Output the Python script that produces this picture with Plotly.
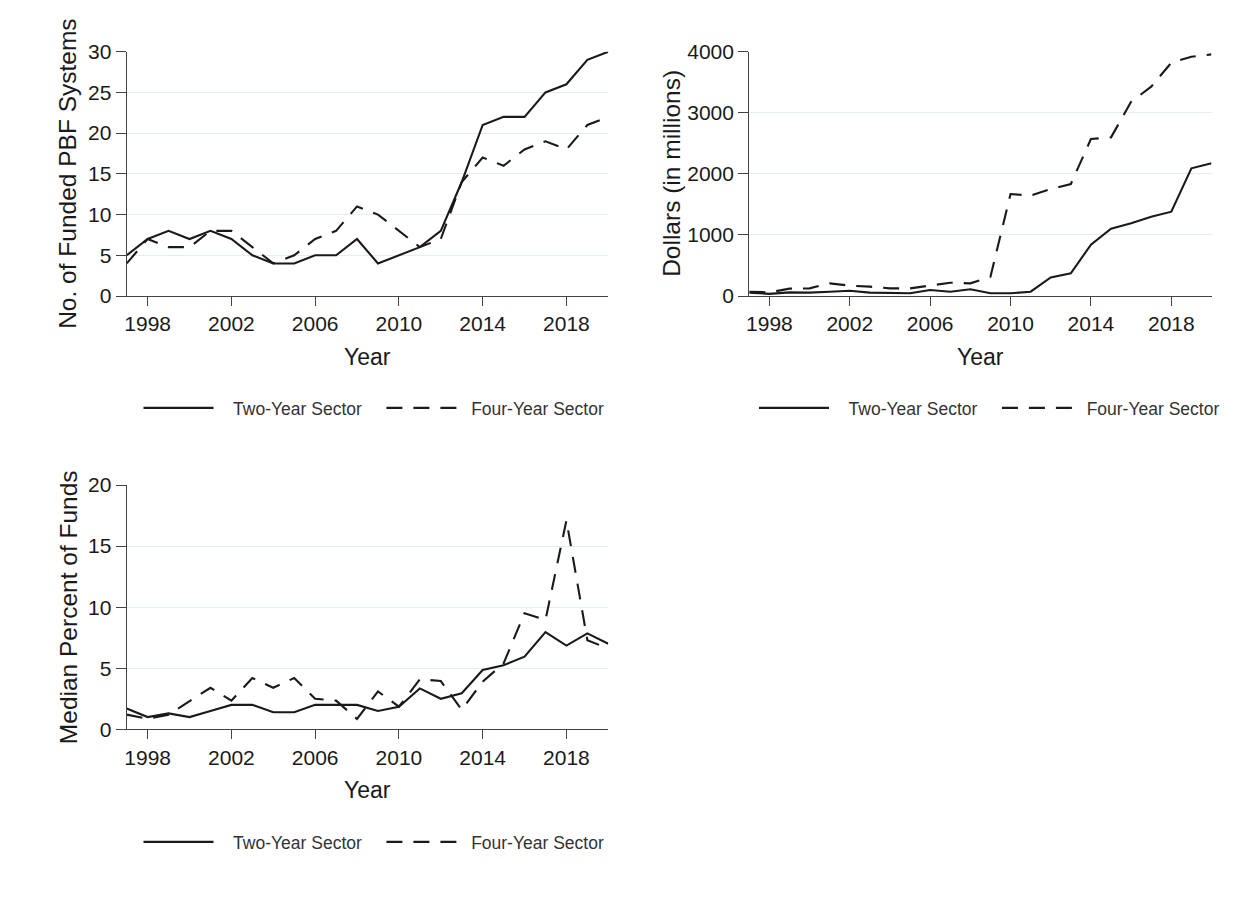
import plotly.graph_objects as go

# ---------------- data ----------------
years = list(range(1997, 2021))
year_ticks = [1998, 2002, 2006, 2010, 2014, 2018]

funded_two = [5, 7, 8, 7, 8, 7, 5, 4, 4, 5, 5, 7, 4, 5, 6, 8, 14, 21, 22, 22, 25, 26, 29, 30]
funded_four = [4, 7, 6, 6, 8, 8, 6, 4, 5, 7, 8, 11, 10, 8, 6, 7, 14, 17, 16, 18, 19, 18, 21, 22]

dollars_two = [55, 35, 60, 55, 70, 87, 55, 44, 44, 98, 70, 110, 44, 44, 70, 305, 371, 840,
               1102, 1190, 1299, 1380, 2090, 2172]
dollars_four = [70, 60, 120, 125, 207, 170, 153, 125, 125, 170, 218, 207, 316, 1670, 1643, 1750,
                1834, 2570, 2597, 3181, 3427, 3820, 3918, 3956]

pct_two = [1.7, 1.0, 1.3, 1.0, 1.5, 2.0, 2.0, 1.4, 1.4, 2.0, 2.0, 2.0, 1.5, 1.85, 3.35, 2.5,
           2.95, 4.85, 5.25, 5.95, 7.95, 6.85, 7.85, 7.0]
pct_four = [1.2, 0.85, 1.2, 2.3, 3.4, 2.35, 4.2, 3.4, 4.2, 2.5, 2.35, 0.85, 3.1, 1.85, 4.1, 3.95,
            1.6, 3.9, 5.4, 9.5, 8.95, 17.1, 7.3, 6.6]

series_names = ["Two-Year Sector", "Four-Year Sector"]
y_titles = ["No. of Funded PBF Systems", "Dollars (in millions)", "Median Percent of Funds"]
x_title = "Year"

# ---------------- layout helpers ----------------
W, H, OFF = 1227, 891, 8  # body margin of the html page is 8px


def fx(px):
    return (px - OFF) / W


def fy(py):
    return 1 - (py - OFF) / H


FONT = "Liberation Sans, Arial, Helvetica, sans-serif"
INK = "#1a1a1a"
GRID = "#e4eef0"
AXIS = "#444444"
NB = "\u00a0"

panels = [
    dict(xp=(126.7, 608.3), yp=(51.7, 296.0), yr=[0, 30], dt=5, two=funded_two, four=funded_four,
         leg="legend", legc=(374, 408), ytx=68),
    dict(xp=(749.3, 1211.5), yp=(51.7, 296.0), yr=[0, 4000], dt=1000, two=dollars_two,
         four=dollars_four, leg="legend2", legc=(989.5, 408), ytx=672),
    dict(xp=(126.7, 608.3), yp=(485.0, 729.3), yr=[0, 20], dt=5, two=pct_two, four=pct_four,
         leg="legend3", legc=(374, 842), ytx=68),
]

fig = go.Figure()
annotations = []
layout = dict(
    width=W, height=H,
    margin=dict(l=0, r=0, t=0, b=0, autoexpand=False),
    paper_bgcolor="white", plot_bgcolor="white",
    font=dict(family=FONT, color=INK),
)

for i, p in enumerate(panels):
    n = "" if i == 0 else str(i + 1)
    xa, ya = "x" + n, "y" + n
    for vals, name, dash in [(p["two"], NB * 3 + series_names[0] + NB * 3, "solid"),
                             (p["four"], NB * 2 + series_names[1], "16px,11px")]:
        fig.add_trace(go.Scatter(
            x=years, y=vals, mode="lines", name=name,
            line=dict(color=INK, width=2.1, dash=dash),
            xaxis=xa, yaxis=ya, legend=p["leg"], showlegend=True,
        ))
    layout["xaxis" + n] = dict(
        domain=[fx(p["xp"][0]), fx(p["xp"][1])], anchor=ya, automargin=False,
        range=[1997, 2020], tickvals=year_ticks, ticktext=[str(t) for t in year_ticks],
        ticks="outside", ticklen=9, tickwidth=1.3, tickcolor=AXIS,
        showline=True, linecolor=AXIS, linewidth=1.3, showgrid=False, zeroline=False,
        tickfont=dict(size=21, color=INK, family=FONT),
    )
    layout["yaxis" + n] = dict(
        domain=[fy(p["yp"][1]), fy(p["yp"][0])], anchor=xa, automargin=False,
        range=p["yr"], tickmode="linear", tick0=0, dtick=p["dt"],
        ticks="outside", ticklen=10, tickwidth=1.3, tickcolor=AXIS,
        showline=True, linecolor=AXIS, linewidth=1.3,
        showgrid=True, gridcolor=GRID, gridwidth=1.3, zeroline=False,
        tickfont=dict(size=21, color=INK, family=FONT),
    )
    layout[p["leg"]] = dict(
        x=fx(p["legc"][0]), y=fy(p["legc"][1]), xanchor="center", yanchor="middle",
        orientation="h", itemwidth=70, bgcolor="rgba(0,0,0,0)",
        font=dict(size=17.5, color="#333333", family=FONT),
        traceorder="normal", itemclick=False, itemdoubleclick=False,
    )
    annotations.append(dict(
        text=y_titles[i], xref="paper", yref="paper",
        x=fx(p["ytx"]), y=fy((p["yp"][0] + p["yp"][1]) / 2),
        textangle=-90, showarrow=False, xanchor="center", yanchor="middle",
        font=dict(size=24.5, color=INK, family=FONT),
    ))
    annotations.append(dict(
        text=x_title, xref="paper", yref="paper",
        x=fx((p["xp"][0] + p["xp"][1]) / 2), y=fy(p["yp"][1] + 61),
        showarrow=False, xanchor="center", yanchor="middle",
        font=dict(size=23, color=INK, family=FONT),
    ))

layout["annotations"] = annotations
fig.update_layout(**layout)
fig.write_html("out.html")
